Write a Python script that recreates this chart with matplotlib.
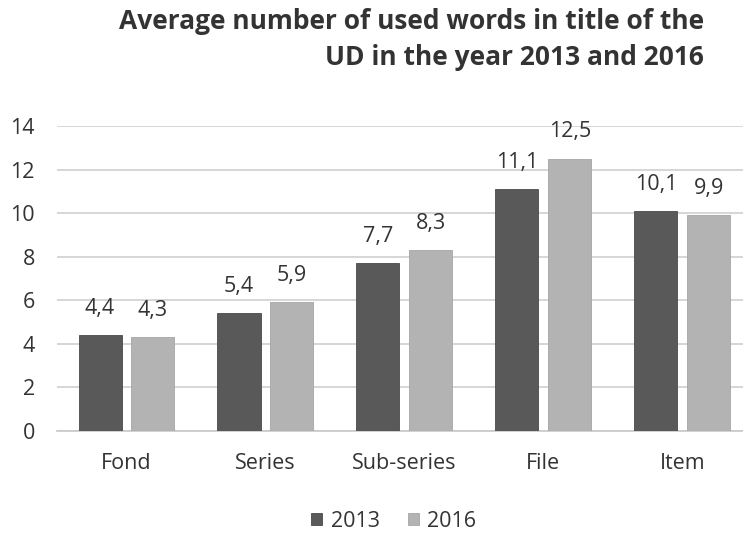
import matplotlib.pyplot as plt
import numpy as np

# Data
categories = ['Fond', 'Series', 'Sub-series', 'File', 'Item']
values_2013 = [4.4, 5.4, 7.7, 11.1, 10.1]
values_2016 = [4.3, 5.9, 8.3, 12.5, 9.9]
labels_2013 = ['4,4', '5,4', '7,7', '11,1', '10,1']
labels_2016 = ['4,3', '5,9', '8,3', '12,5', '9,9']

plt.rcParams['font.family'] = ['Open Sans', 'DejaVu Sans']

fig = plt.figure(figsize=(7.43, 5.35), dpi=100)
# plot area runs a little past the right edge, like the cropped original
ax = fig.add_axes([0.0767, 0.1944, 0.935, 0.570])

x = np.arange(len(categories))
width = 0.31
off = 0.19
dark = '#595959'
light = '#b3b3b3'

b1 = ax.bar(x - off, values_2013, width, color=dark, label='2013', zorder=3,
            edgecolor='#4a4a4a', linewidth=0.6)
b2 = ax.bar(x + off, values_2016, width, color=light, label='2016', zorder=3,
            edgecolor='#a5a5a5', linewidth=0.6)

# Value labels above bars
for rect, lab in zip(b1, labels_2013):
    ax.text(rect.get_x() + rect.get_width() / 2, rect.get_height() + 0.75, lab,
            ha='center', va='bottom', fontsize=15.5, color='#333333', clip_on=False)
for rect, lab in zip(b2, labels_2016):
    ax.text(rect.get_x() + rect.get_width() / 2, rect.get_height() + 0.75, lab,
            ha='center', va='bottom', fontsize=15.5, color='#333333', clip_on=False)

ax.set_ylim(0, 14)
ax.set_xlim(-0.5, len(categories) - 0.5)
ax.set_yticks(range(0, 15, 2))
ax.set_xticks(x)
ax.set_xticklabels(categories)
ax.tick_params(axis='both', length=0, labelsize=15.5, colors='#333333')
ax.tick_params(axis='x', pad=16)
ax.tick_params(axis='y', pad=16)
ax.yaxis.grid(True, color='#d0d0d0', linewidth=1.2, zorder=0)
ax.set_axisbelow(True)
for s in ['top', 'right', 'left']:
    ax.spines[s].set_visible(False)
ax.spines['bottom'].set_color('#c8c8c8')
ax.spines['bottom'].set_linewidth(1.2)

fig.text(0.948, 0.985, 'Average number of used words in title of the\nUD in the year 2013 and 2016',
         ha='right', va='top', fontsize=19, fontweight='bold', color='#333333',
         linespacing=1.42, multialignment='right')

fig.legend(handles=[b1, b2], loc='center', bbox_to_anchor=(0.53, 0.026), ncol=2, frameon=False,
           fontsize=15.5, handlelength=0.5, handleheight=0.5, handletextpad=0.4,
           columnspacing=1.3, labelcolor='#333333')

fig.savefig('out.png', dpi=100)
